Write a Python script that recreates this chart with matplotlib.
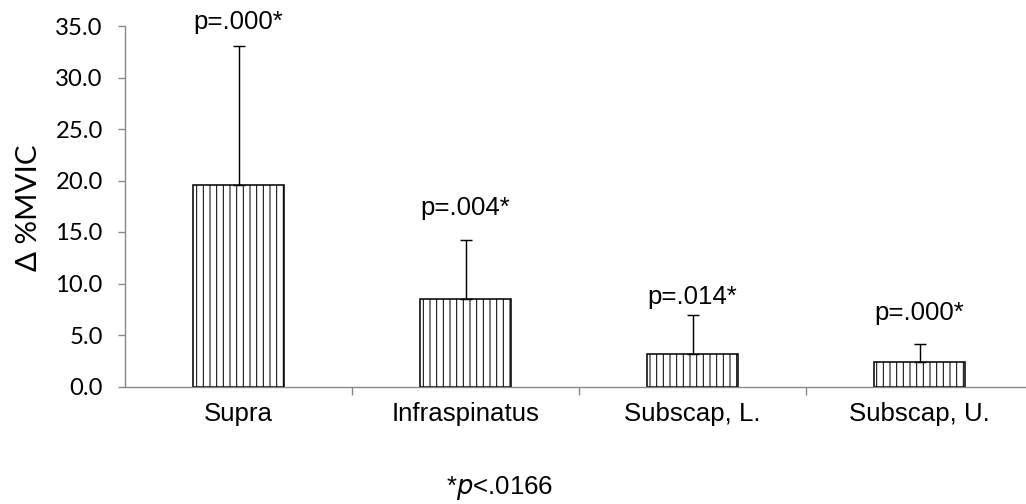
import matplotlib.pyplot as plt
import numpy as np

# data
muscles = ["Supra", "Infraspinatus", "Subscap, L.", "Subscap, U."]
mean_change = [19.6, 8.45, 3.18, 2.36]
sd_change = [13.5, 5.75, 3.72, 1.79]
p_labels = ["p=.000*", "p=.004*", "p=.014*", "p=.000*"]
p_label_y = [35.4, 17.3, 8.65, 7.1]
yticks = np.arange(0, 35.1, 5)

plt.rcParams["font.family"] = ["Liberation Sans", "DejaVu Sans"]
plt.rcParams["hatch.linewidth"] = 0.9

fs = 23.3
fig = plt.figure(figsize=(12.825, 6.3), dpi=80)
ax = fig.add_axes([125 / 1026, 117.5 / 504, 908 / 1026, 360.5 / 504])

x = np.arange(len(muscles))
ax.bar(x, mean_change, width=0.405, color="white", edgecolor="black",
       linewidth=1.4, hatch="||", zorder=2)
ax.errorbar(x, mean_change, yerr=[np.zeros(len(x)), sd_change], fmt="none",
            ecolor="black", elinewidth=1.3, capsize=5, capthick=1.3, zorder=3)

for xi, lab, yy in zip(x, p_labels, p_label_y):
    ax.text(xi, yy, lab, ha="center", va="center", fontsize=fs, clip_on=False)

ax.set_xlim(-0.5, len(muscles) - 0.5)
ax.set_ylim(0, 35)
ax.set_yticks(yticks)
ax.set_yticklabels([f"{v:.1f}" for v in yticks], family="Lato", fontsize=21.5)
ax.set_xticks(x)
ax.set_xticklabels(muscles, fontsize=fs)
ax.set_xticks(np.arange(0.5, len(muscles) - 0.5, 1), minor=True)
ax.tick_params(axis="x", which="major", length=0, pad=14)
ax.tick_params(axis="x", which="minor", length=7, color="#868686", width=1.2)
ax.tick_params(axis="y", length=6, color="#868686", width=1.2, pad=14)

for s in ["top", "right"]:
    ax.spines[s].set_visible(False)
for s in ["left", "bottom"]:
    ax.spines[s].set_color("#868686")
    ax.spines[s].set_linewidth(1.2)

fig.text(29 / 1026, 1 - 208 / 504, "Δ %MVIC", family="Lato", fontsize=26.5,
         rotation=90, ha="center", va="center")

fig.text(500 / 1026, 1 - 488 / 504, r"*$\it{p}$<.0166", ha="center", va="center",
         fontsize=fs)

fig.savefig("out.png", dpi=80)
